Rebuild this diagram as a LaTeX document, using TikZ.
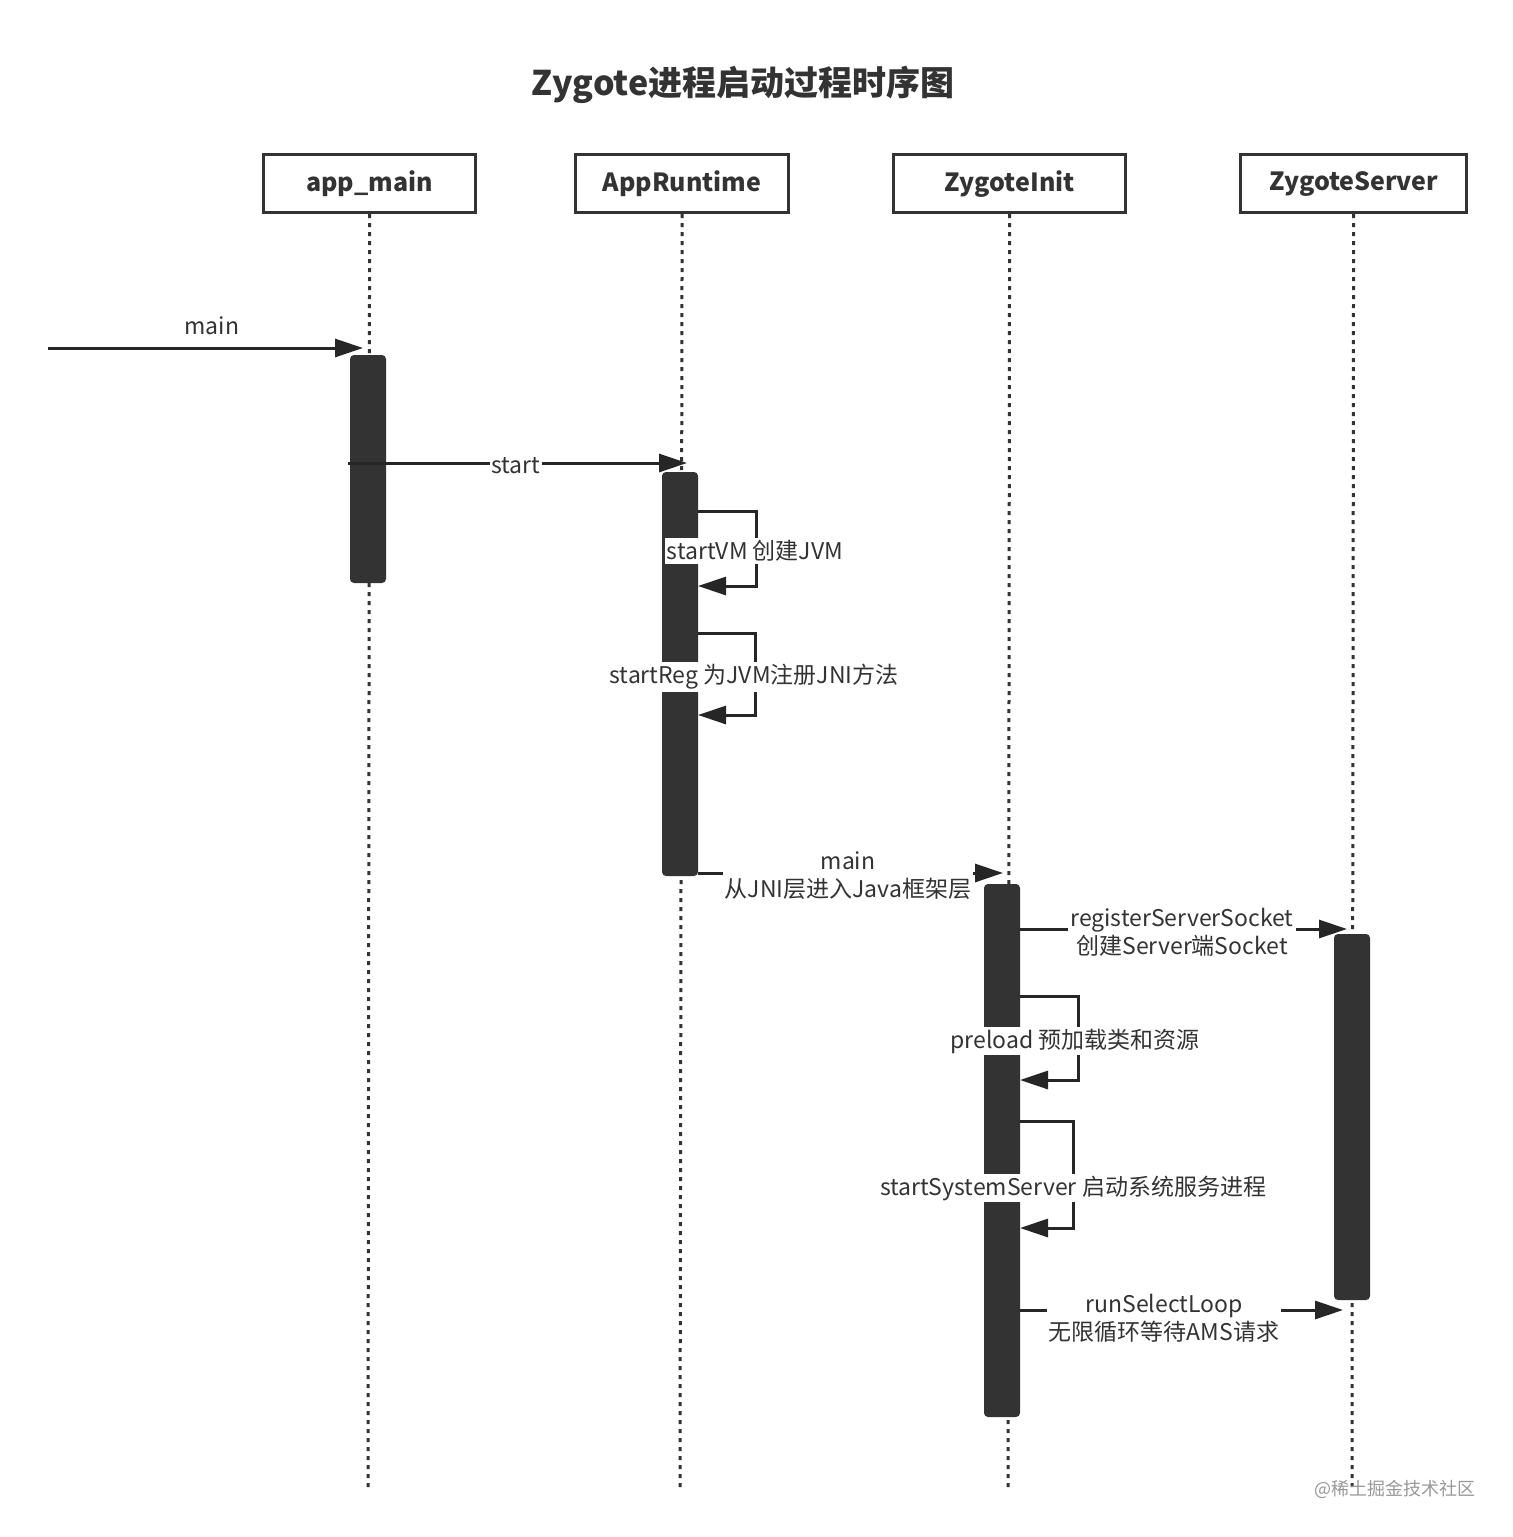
\documentclass[tikz,border=0pt]{standalone}
\usepackage{fontspec}
\setmainfont{Noto Sans CJK SC}
\usetikzlibrary{arrows.meta}
\begin{document}
\begin{tikzpicture}[x=0.5pt,y=-0.5pt,
 hdr/.style={draw=black!80,line width=1.6pt,minimum height=29pt,anchor=north west,inner sep=0pt,font=\fontsize{12.5}{14}\selectfont\bfseries,text=black!80},
 life/.style={line width=1.5pt,black!80,dash pattern=on 2pt off 2.5pt},
 bar/.style={fill=black!80,rounded corners=2pt},
 msg/.style={line width=1.5pt,black!85,-{Triangle[length=14pt,width=9pt]}},
 lbl/.style={font=\fontsize{11.5}{14}\selectfont,text=black!80,fill=white,inner sep=1pt,align=center}]
\useasboundingbox (0,0) rectangle (1512,1537);
\fill[white] (0,0) rectangle (1512,1537);
\node[font=\fontsize{17}{20}\selectfont\bfseries,text=black!80] (title) at (743,85) {Zygote进程启动过程时序图};
\node[hdr,minimum width=106pt] (h1) at (262,153) {app\_main};
\node[hdr,minimum width=106.5pt] (h2) at (574,153) {AppRuntime};
\node[hdr,minimum width=116pt] (h3) at (892,153) {ZygoteInit};
\node[hdr,minimum width=113pt] (h4) at (1239,153) {ZygoteServer};
\coordinate (e1) at (368,1490); \coordinate (e2) at (680,1490);
\coordinate (e3) at (1008,1490); \coordinate (e4) at (1352,1490);
\draw[life] (h1.south) -- (e1); \draw[life] (h2.south) -- (e2);
\draw[life] (h3.south) -- (e3); \draw[life] (h4.south) -- (e4);
\fill[bar] (350,355) rectangle (386,583);
\fill[bar] (662,472) rectangle (698,876);
\fill[bar] (984,884) rectangle (1020,1417);
\fill[bar] (1334,934) rectangle (1370,1300);
% messages
\coordinate (m0) at (48,348); \coordinate (m1) at (363,348);
\draw[msg] (m0) -- (m1);
\node[lbl] (lm) at (212,326) {main};
\coordinate (s0) at (348,463); \coordinate (s1) at (687,463);
\draw[msg] (s0) -- (s1);
\node[lbl] (ls) at (516,466) {start};
\draw[msg] (698,511) -- (756,511) -- (756,586) -- (698,586);
\node[lbl] (lv) at (755,551) {startVM 创建JVM};
\draw[msg] (698,633) -- (755,633) -- (755,715) -- (698,715);
\node[lbl] (lr) at (754,677) {startReg 为JVM注册JNI方法};
\draw[msg] (698,873) -- (1003,873);
\node[lbl] (lz) at (848,876) {main\\从JNI层进入Java框架层};
\draw[msg] (1020,929) -- (1347,929);
\node[lbl] (lrs) at (1182,932) {registerServerSocket\\创建Server端Socket};
\draw[msg] (1020,996) -- (1078,996) -- (1078,1080) -- (1020,1080);
\node[lbl] (lp) at (1075,1041) {preload 预加载类和资源};
\draw[msg] (1020,1121) -- (1073,1121) -- (1073,1228) -- (1020,1228);
\node[lbl] (lss) at (1073,1188) {startSystemServer 启动系统服务进程};
\draw[msg] (1020,1310) -- (1343,1310);
\node[lbl] (lsl) at (1164,1318) {runSelectLoop\\无限循环等待AMS请求};
\node[font=\fontsize{9}{10}\selectfont,text=black!40] (wm) at (1395,1489) {@稀土掘金技术社区};
\end{tikzpicture}
\end{document}
